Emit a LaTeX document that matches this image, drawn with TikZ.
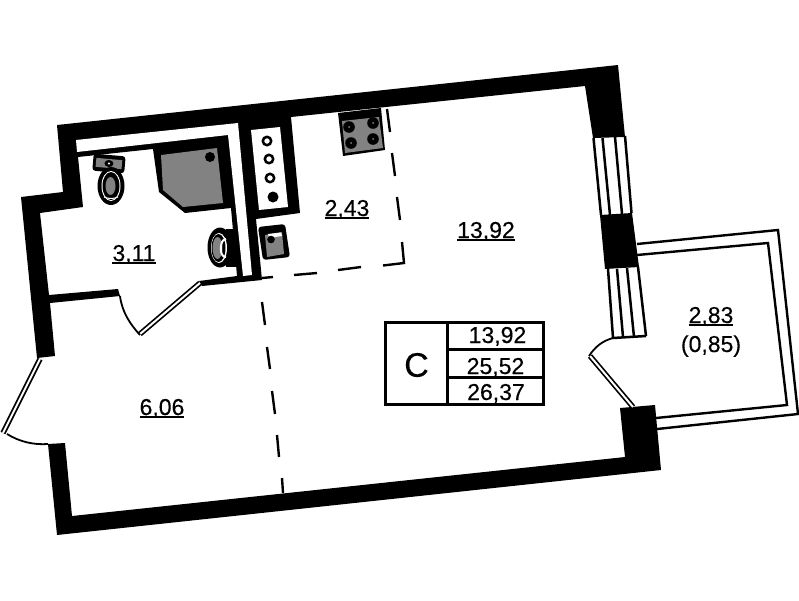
\documentclass[tikz,border=0pt]{standalone}
\usepackage{fontspec}
\setmainfont[FakeBold=0.35]{Liberation Sans}
\definecolor{fixgray}{HTML}{828282}
\newcommand{\ulbl}[1]{\setbox0\hbox{#1}\rlap{\rule[-3.2pt]{\wd0}{2pt}}\box0}
\tikzset{
  wall/.style={fill=black,draw=none},
  gap/.style={fill=white,draw=none},
  fixture/.style={fill=fixgray,draw=none},
  leaf/.style={draw=black,line width=1.7pt,double=white,double distance=2pt},
  swing/.style={draw=black,line width=1.8pt},
  glass/.style={draw=black,line width=2.5pt},
  zone/.style={draw=black,line width=2.4pt},
  rail/.style={draw=black,line width=2.4pt},
  label/.style={inner sep=0pt,anchor=base,font=\fontsize{23}{26}\selectfont},
  grid/.style={draw=black,line width=3pt},
}
\begin{document}
\begin{tikzpicture}[x=1pt,y=-1pt]
\useasboundingbox (0,0) rectangle (799,600);
% balcony
\draw[rail] (637,244) -- (778,230) -- (798,414) -- (657,429);
\draw[rail] (637,255) -- (768,243) -- (787,405) -- (656,418);
% windows
\draw[glass] (593.5,138) -- (601,215) (602.5,138) -- (610,215) (615,137) -- (622,214) (625,136) -- (631.5,213);
\draw[glass] (608,269) -- (613,338) (617,269) -- (623,337) (627,268) -- (634,337) (638,267) -- (646,336);
\draw[glass] (613,338) -- (646,336);
% walls
\fill[wall] (37,358) -- (21,197) -- (63,192) -- (57,125) -- (618,65) -- (625,137) -- (593,138) -- (585,86) -- (291,117) -- (300,213) -- (256,219) -- (262,280) -- (202,286) -- (199,281) -- (237,276) -- (231,208) -- (185,213) -- (159,192) -- (153,149) -- (78,157) -- (83,207) -- (40,213) -- (49,295) -- (118,289) -- (120,296) -- (50,303) -- (55,356) -- cycle;
\fill[wall] (48,444) -- (65,443) -- (72,516) -- (625,457) -- (620,408) -- (655,405) -- (661,470) -- (57,535) -- cycle;
\fill[wall] (600,215) -- (632,213) -- (639,267) -- (605,269) -- cycle;
% service channel and shaft
\fill[gap] (76,140) -- (238,123) -- (252,275) -- (243,276) -- (228,135) -- (77,152) -- cycle;
\fill[gap] (251,130) -- (280,127) -- (288,207) -- (259,210) -- cycle;
\draw[black,line width=2.5pt] (267,141) circle (4.2) (269,159) circle (4.2) (270,178) circle (4.2);
\fill[black] (273,197) circle (5.5);
% shower
\fill[fixture] (161,155) -- (217,148) -- (223,203) -- (183,207) -- (163,190) -- cycle;
\fill[black] (210,157) circle (5);
% toilet
\begin{scope}[rotate around={-5:(109,163)}]
  \fill[black,rounded corners=3pt] (93,155) rectangle (125,172);
  \fill[fixture] (96,159) rectangle (122,168);
  \fill[black] (109,163.5) ellipse (4.5 and 3.5);
  \fill[white] (109,163.5) circle (1.2);
\end{scope}
\fill[black] (111,186) ellipse (13.5 and 19);
\fill[white] (111,186) ellipse (9.5 and 15);
\fill[black] (111,186) ellipse (8.5 and 14);
\fill[fixture] (110.5,186) ellipse (5 and 9);
\draw[white,line width=1pt] (104,197) .. controls (108,199) and (114,199) .. (118,197);
% bathroom basin
\fill[black] (226,229) rectangle (238,267);
\fill[black] (220,247.5) ellipse (12.5 and 20);
\fill[white] (219,248) ellipse (8 and 15);
\fill[black] (218.5,248) ellipse (7 and 14);
\fill[fixture] (217.5,248) ellipse (5 and 11);
\draw[white,line width=2pt] (226,239) .. controls (219,239) and (219,258) .. (226,257);
% kitchen sink
\fill[black,rounded corners=3pt] (258,227) -- (285,224) -- (290,257) -- (263,260) -- cycle;
\fill[fixture] (265,235) -- (282,232) -- (284,254) -- (267,257) -- cycle;
\fill[white] (268,234) -- (281,232.5) -- (282,236) -- (269,238) -- cycle;
\fill[black] (271,239.5) circle (3.8);
% hob
\fill[black] (338,113) -- (381,108) -- (385,150) -- (343,156) -- cycle;
\fill[fixture] (342,121) -- (379,117) -- (383,148) -- (345,153) -- cycle;
\foreach \bx/\by in {349/127,373/123,351/143,373/139}{
  \fill[black] (\bx,\by) circle (5.8);
  \fill[fixgray] (\bx,\by) circle (1);
}
% doors
\draw[leaf] (200,283) -- (140,334);
\draw[swing] (120,296) .. controls (122,312) and (130,324) .. (140,335);
\draw[leaf] (40,359) -- (3,433);
\draw[swing] (7,434) .. controls (20,442) and (34,445) .. (48,444);
\draw[leaf] (590,356) -- (633,407);
\draw[swing] (613,338) .. controls (602,341) and (595,347) .. (589,356);
% zones
\draw[zone] (262,278) -- (273,277) (294,275) -- (317,273) (338,270) -- (361,267);
\draw[zone] (383,265.5) -- (404,263) -- (402,242);
\draw[zone] (400,220) -- (397,197) (395,176) -- (392,153) (390,132) -- (387,109);
\draw[zone] (262,302) -- (265,325) (267,347) -- (270,369) (272,391) -- (275,414) (277,435) -- (279,457) (282,478) -- (283,493);
% summary table
\draw[grid] (385,322) rectangle (543,404);
\draw[grid] (447,322) -- (447,404) (447,349) -- (543,349) (447,377) -- (543,377);
\node[inner sep=0pt,font=\fontsize{34}{38}\selectfont] (cat) at (416.5,365) {C};
\node[label] (tliving) at (497.5,343) {13,92};
\node[label] (ttotal) at (495.5,374) {25,52};
\node[label] (tfull) at (496,400) {26,37};
% room labels
\node[label] (bath) at (134,261) {\ulbl{3,11}};
\node[label] (kitchen) at (347,216) {\ulbl{2,43}};
\node[label] (living) at (486,238) {\ulbl{13,92}};
\node[label] (hall) at (162,415) {\ulbl{6,06}};
\node[label] (balc) at (711,323) {\ulbl{2,83}};
\node[label] (balcred) at (711,352) {(0,85)};
\end{tikzpicture}
\end{document}
